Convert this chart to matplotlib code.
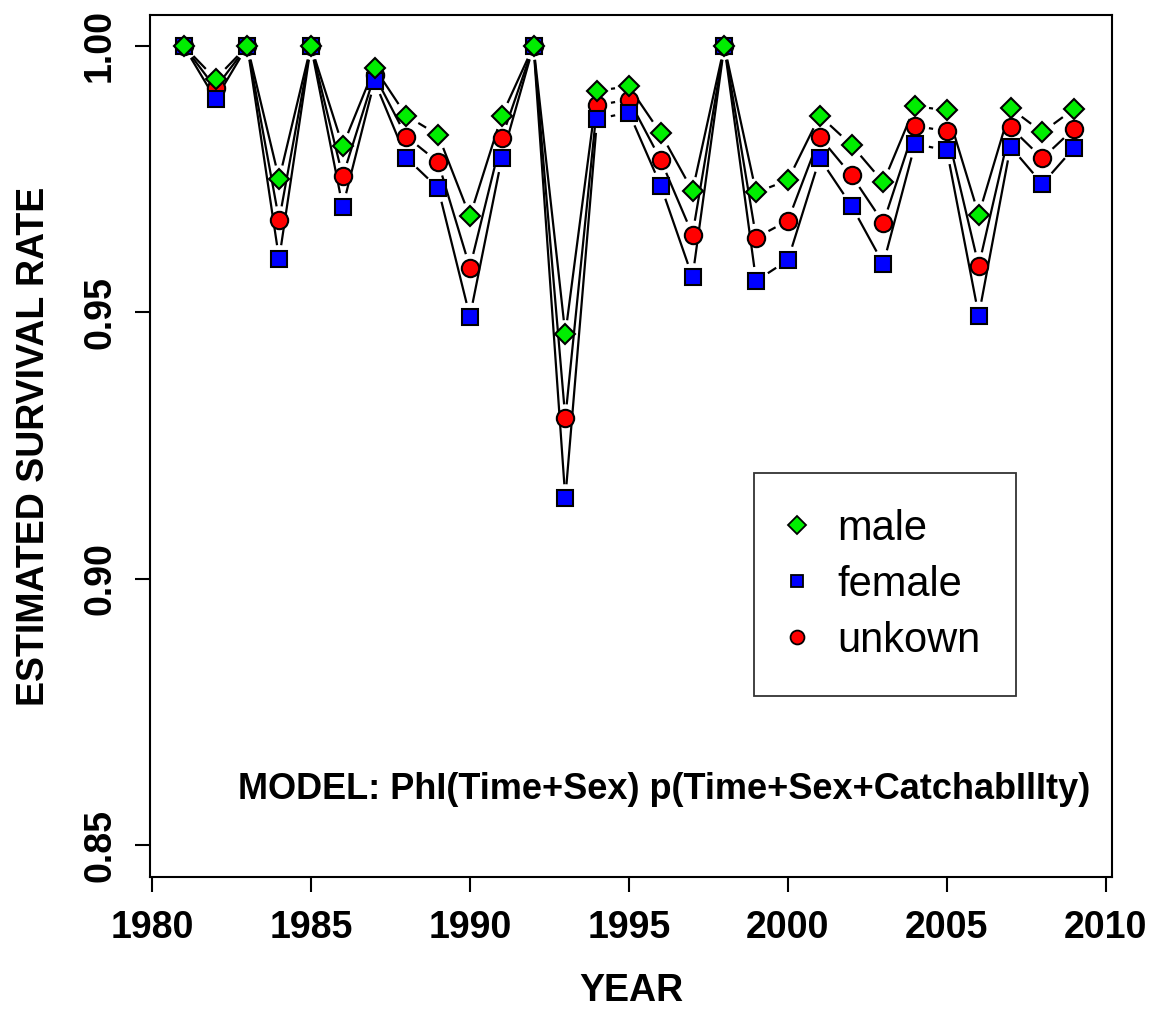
import numpy as np
import matplotlib
matplotlib.use("Agg")
import matplotlib.pyplot as plt
from matplotlib.collections import LineCollection
import matplotlib.lines as mlines

plt.rcParams["font.family"] = ["Liberation Sans", "DejaVu Sans"]

years = list(range(1981, 2010))

male = [1.0, 0.9938, 1.0, 0.9750, 1.0, 0.9812, 0.9959, 0.9869, 0.9833, 0.9680,
        0.9869, 1.0, 0.9459, 0.9916, 0.9924, 0.9836, 0.9728, 1.0, 0.9725, 0.9748,
        0.9869, 0.9814, 0.9744, 0.9887, 0.9879, 0.9683, 0.9883, 0.9838, 0.9882]

female = [1.0, 0.9900, 1.0, 0.9600, 1.0, 0.9698, 0.9934, 0.9790, 0.9733, 0.9492,
          0.9789, 1.0, 0.9151, 0.9863, 0.9875, 0.9738, 0.9566, 1.0, 0.9559, 0.9598,
          0.9789, 0.9700, 0.9591, 0.9816, 0.9804, 0.9494, 0.9811, 0.9741, 0.9809]

unknown = [1.0, 0.9921, 1.0, 0.9673, 1.0, 0.9755, 0.9945, 0.9830, 0.9782, 0.9584,
           0.9827, 1.0, 0.9301, 0.9889, 0.9899, 0.9786, 0.9646, 1.0, 0.9640, 0.9672,
           0.9829, 0.9757, 0.9668, 0.9850, 0.9840, 0.9587, 0.9847, 0.9789, 0.9845]

labels = ["male", "female", "unkown"]
model_text = "MODEL: PhI(Time+Sex) p(Time+Sex+CatchabIlIty)"


def gapped_segments(ax, x, y, gap):
    # R type="b": lines stop short of each point by `gap` pixels
    pts = ax.transData.transform(np.column_stack([x, y]))
    inv = ax.transData.inverted()
    segs = []
    for p0, p1 in zip(pts[:-1], pts[1:]):
        d = p1 - p0
        L = np.hypot(*d)
        if L <= 2 * gap:
            continue
        u = d / L
        a = inv.transform(p0 + u * gap)
        b = inv.transform(p1 - u * gap)
        segs.append([a, b])
    return segs


def main():
    fig = plt.figure(figsize=(11.53, 10.10), dpi=100)
    ax = fig.add_axes([0.1301, 0.1317, 0.8343, 0.8534])
    ax.set_xlim(1979.94, 2010.19)
    ax.set_ylim(0.844, 1.0058)

    series = [
        (unknown, "o", "red", 12.5),
        (female, "s", "blue", 11.5),
        (male, "D", "#00ee00", 10.5),
    ]
    for i, (vals, mk, col, ms) in enumerate(series):
        segs = gapped_segments(ax, years, vals, 14)
        ax.add_collection(LineCollection(segs, colors="black", linewidths=1.6, zorder=2))
        ax.plot(years, vals, linestyle="None", marker=mk, markersize=ms,
                markerfacecolor=col, markeredgecolor="black", markeredgewidth=1.5,
                zorder=3 + i)

    ax.set_xticks([1980, 1985, 1990, 1995, 2000, 2005, 2010])
    ax.set_yticks([0.85, 0.90, 0.95, 1.00])
    ax.set_yticklabels(["0.85", "0.90", "0.95", "1.00"], rotation=90, va="center")
    ax.tick_params(axis="both", length=11, width=1.5, labelsize=27)
    ax.tick_params(axis="x", pad=13)
    ax.tick_params(axis="y", pad=12)
    for lab in ax.get_xticklabels() + ax.get_yticklabels():
        lab.set_fontweight("bold")
    for sp in ax.spines.values():
        sp.set_linewidth(1.5)

    ax.set_xlabel("YEAR", fontsize=27, fontweight="bold", labelpad=19)
    ax.set_ylabel("ESTIMATED SURVIVAL RATE", fontsize=27, fontweight="bold", labelpad=22)

    ax.text(0.977, 0.101, model_text, transform=ax.transAxes, ha="right", va="center",
            fontsize=26, fontweight="bold")

    handles = [
        mlines.Line2D([], [], linestyle="None", marker="D", markersize=9,
                      markerfacecolor="#00ee00", markeredgecolor="black", markeredgewidth=1.3),
        mlines.Line2D([], [], linestyle="None", marker="s", markersize=9,
                      markerfacecolor="blue", markeredgecolor="black", markeredgewidth=1.3),
        mlines.Line2D([], [], linestyle="None", marker="o", markersize=10,
                      markerfacecolor="red", markeredgecolor="black", markeredgewidth=1.3),
    ]
    leg = ax.legend(handles, labels, loc="center",
                    bbox_to_anchor=(0.764, 0.339), fontsize=30, frameon=True,
                    fancybox=False, edgecolor="black", borderpad=0.85,
                    handletextpad=0.8, labelspacing=0.39, handlelength=0.34,
                    borderaxespad=0)
    leg.get_frame().set_linewidth(1.3)

    fig.savefig("out.png", dpi=100)


if __name__ == "__main__":
    main()
